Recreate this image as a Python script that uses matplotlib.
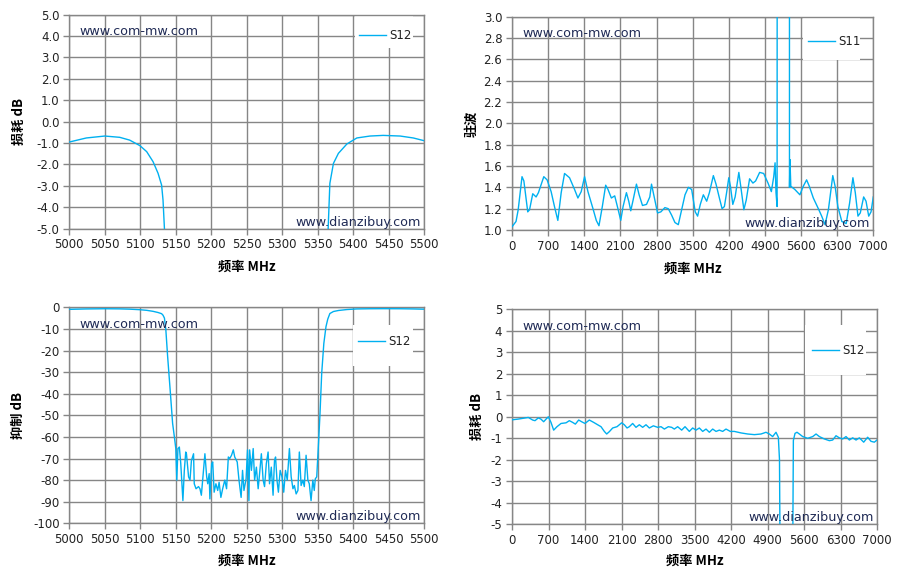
import matplotlib
matplotlib.use("Agg")
import matplotlib.pyplot as plt
from matplotlib.patches import Rectangle
import numpy as np

plt.rcParams["font.family"] = ["DejaVu Sans"]

CJK = ["Noto Sans CJK SC", "DejaVu Sans"]
LINE = "#00B0F0"
GRID = "#868686"
MARK = "#1F2A55"

# narrow sweep S12, 5000-5500 MHz (used in both left panels)
f_narrow = [5000, 5024, 5050, 5071, 5085, 5099.5, 5109, 5118, 5125, 5130, 5132, 5134,
            5136, 5138.5, 5142, 5145.5, 5148,
            5150, 5151.4, 5153, 5155, 5157, 5160, 5162, 5164, 5165, 5168, 5170, 5172,
            5175, 5176, 5178.5, 5182, 5184, 5186, 5189, 5191, 5193.5, 5195, 5197, 5198,
            5200.5, 5202, 5204, 5206.5, 5209, 5211, 5213.5, 5216, 5219, 5221.5, 5224,
            5226, 5228.5, 5231, 5233, 5236.5, 5239, 5242, 5244, 5246, 5249, 5251, 5253,
            5254, 5256.5, 5259, 5261, 5263.5, 5266, 5268, 5270.5, 5273, 5275, 5277.5,
            5280, 5282, 5284.5, 5287, 5289, 5290.5, 5292.5, 5294.5, 5297, 5299.5, 5302,
            5304.5, 5307, 5310, 5312.5, 5315, 5317, 5319.5, 5322, 5324, 5326.5, 5329,
            5331, 5333.5, 5336, 5338, 5340.5, 5343, 5345, 5346.5, 5348.5,
            5351, 5353, 5355.5, 5358.5, 5361.5, 5364, 5367, 5372, 5379, 5391, 5405,
            5423.5, 5442, 5466, 5484.5, 5500]
s12_narrow = [-0.95, -0.76, -0.67, -0.73, -0.86, -1.12, -1.40, -1.87, -2.41, -2.96, -3.66, -5.0,
              -10.5, -22.8, -38, -53.7, -60,
              -65.4, -80, -65.4, -64.7, -72.4, -89.5, -75.5, -67, -67.8, -78.5, -80, -71,
              -67.8, -81.7, -84, -83, -84, -87, -75.5, -67.8, -78.5, -81.7, -77, -88.7,
              -72.4, -71.6, -85.6, -81.7, -84.8, -81, -88, -84, -80, -84, -69.3,
              -70, -68.5, -66, -69.3, -71.6, -80, -88, -75.5, -84.8, -79.4, -66, -89.5,
              -66, -75.5, -65.4, -80, -74, -84, -77, -67.8, -80, -83, -72.4,
              -67, -81.7, -74, -87, -71, -69.3, -80, -85.6, -75.5, -78.5, -85.6,
              -75.5, -80, -65.4, -78.5, -84, -82.5, -86.4, -84.8, -67, -82.5, -80,
              -83, -68.5, -80, -81.7, -89.5, -80, -84.8, -79.4, -78.5,
              -63, -50, -30.5, -16.7, -9, -5.5, -2.88, -1.95, -1.48, -1.04, -0.76,
              -0.67, -0.64, -0.67, -0.76, -0.89]

# wide sweep S11 (VSWR), 0-7000 MHz
f_vswr = [0, 78, 120, 194, 230, 305, 340, 402, 467, 512, 616, 680, 758, 823, 888, 953,
          1018, 1115, 1212, 1277, 1341, 1406, 1471, 1569, 1633, 1685, 1750, 1815, 1860,
          1925, 1990, 2042, 2107, 2152, 2217, 2262, 2301, 2346, 2411, 2463, 2528, 2606,
          2670, 2703, 2755, 2820, 2884, 2962, 3027, 3092, 3157, 3222, 3287, 3352, 3417,
          3481, 3550, 3596, 3648, 3707, 3772, 3824, 3901, 3953, 4018, 4070, 4115, 4161,
          4200, 4232, 4278, 4323, 4395, 4440, 4492, 4538, 4603, 4668, 4720, 4798, 4876,
          4960, 5025, 5071, 5097, 5115, 5136, 5149, 5250, 5372, 5376, 5385, 5402, 5480,
          5578, 5643, 5708, 5760, 5838, 5935, 6000, 6065, 6130, 6215, 6260, 6313, 6390,
          6475, 6540, 6605, 6651, 6703, 6748, 6813, 6859, 6911, 6956, 7000]
vswr = [1.03, 1.08, 1.19, 1.50, 1.46, 1.17, 1.19, 1.34, 1.31, 1.35, 1.50, 1.47, 1.36, 1.22,
        1.09, 1.35, 1.53, 1.49, 1.38, 1.30, 1.36, 1.50, 1.36, 1.20, 1.09, 1.04, 1.22, 1.42,
        1.38, 1.30, 1.32, 1.22, 1.09, 1.22, 1.35, 1.27, 1.18, 1.28, 1.43, 1.33, 1.23, 1.24,
        1.31, 1.43, 1.31, 1.16, 1.17, 1.21, 1.20, 1.14, 1.07, 1.05, 1.19, 1.33, 1.40,
        1.38, 1.17, 1.13, 1.24, 1.33, 1.27, 1.35, 1.51, 1.43, 1.30, 1.20, 1.22, 1.36,
        1.49, 1.41, 1.24, 1.31, 1.54, 1.38, 1.19, 1.28, 1.48, 1.44, 1.46, 1.54, 1.53,
        1.44, 1.36, 1.50, 1.63, 1.35, 1.22, 20.0, 40.0, 20.0, 1.40, 1.66, 1.41, 1.38,
        1.33, 1.41, 1.47, 1.41, 1.30, 1.20, 1.13, 1.05, 1.19, 1.51, 1.41, 1.22, 1.08,
        1.06, 1.25, 1.49, 1.35, 1.13, 1.16, 1.31, 1.27, 1.13, 1.17, 1.31]

# wide sweep S12, 0-7000 MHz
f_wide = [0, 109, 237, 313, 396, 441, 505, 556, 607, 652, 697, 748, 799, 863, 940, 1036,
          1100, 1163, 1215, 1279, 1336, 1400, 1483, 1566, 1643, 1707, 1771, 1816, 1867,
          1931, 2014, 2103, 2154, 2206, 2250, 2314, 2378, 2442, 2506, 2570, 2634, 2711,
          2794, 2858, 2922, 2998, 3062, 3113, 3177, 3254, 3318, 3401, 3465, 3529, 3593,
          3657, 3721, 3785, 3849, 3913, 3977, 4040, 4104, 4187, 4264, 4392, 4520, 4648,
          4776, 4871, 4935, 4999, 5063, 5108, 5130, 5145, 5155, 5250, 5365, 5380, 5396,
          5428, 5466, 5511, 5575, 5671, 5767, 5831, 5894, 5990, 6086, 6150, 6214, 6278,
          6342, 6406, 6470, 6534, 6598, 6662, 6745, 6821, 6885, 6949, 7000]
s12_wide = [-0.14, -0.11, -0.06, -0.03, -0.15, -0.18, -0.05, -0.11, -0.23, -0.11, 0.0,
            -0.26, -0.62, -0.46, -0.31, -0.28, -0.18, -0.26, -0.34, -0.15, -0.23, -0.31,
            -0.15, -0.26, -0.37, -0.46, -0.68, -0.80, -0.69, -0.52, -0.46, -0.28, -0.37,
            -0.52, -0.46, -0.31, -0.49, -0.37, -0.49, -0.37, -0.52, -0.42, -0.49, -0.46,
            -0.57, -0.46, -0.49, -0.57, -0.46, -0.62, -0.46, -0.68, -0.52, -0.62, -0.52,
            -0.68, -0.57, -0.72, -0.57, -0.68, -0.62, -0.68, -0.57, -0.68, -0.68, -0.75,
            -0.80, -0.83, -0.80, -0.72, -0.80, -0.92, -0.72, -0.95, -2.0, -8.0, -40.0,
            -80.0, -40.0, -8.0, -1.1, -0.77, -0.72, -0.80, -0.92, -1.0, -0.92, -0.80,
            -0.92, -1.03, -1.11, -1.08, -0.88, -0.98, -1.03, -0.92, -1.08, -0.98, -1.08,
            -0.98, -1.18, -0.95, -1.14, -1.18, -1.08]

W, H = 899, 578


def px_axes(fig, box):
    left, top, right, bottom = box
    return fig.add_axes([left / W, 1 - bottom / H, (right - left) / W, (bottom - top) / H])


def to_axes(box, x, y):
    left, top, right, bottom = box
    return (x - left) / (right - left), (bottom - y) / (bottom - top)


def style(ax, box, xticks, yticks, yfmt, ylabel, xlabel_y, ylabel_x, leg_box, leg_line, name):
    ax.set_xlim(xticks[0], xticks[-1])
    ax.set_ylim(yticks[0], yticks[-1])
    ax.set_xticks(xticks)
    ax.set_yticks(yticks)
    ax.set_yticklabels([yfmt.format(v) for v in yticks])
    ax.grid(True, color=GRID, linewidth=1.0)
    ax.set_axisbelow(True)
    for s in ax.spines.values():
        s.set_color(GRID)
        s.set_linewidth(1.0)
        s.set_zorder(1.0)
    ax.tick_params(direction="out", length=4, width=1.0, color=GRID,
                   labelsize=8.5, labelcolor="#222222", pad=3)
    ax.set_xlabel("频率 MHz", family=CJK, fontweight="bold", fontsize=9.5, va="center")
    ax.xaxis.set_label_coords(0.5, xlabel_y)
    ax.set_ylabel(ylabel, family=CJK, fontweight="bold", fontsize=9.5, va="center")
    ax.yaxis.set_label_coords(ylabel_x, 0.5)

    # white legend area hiding the grid, like the spreadsheet chart
    x0, y0 = to_axes(box, leg_box[0], leg_box[3])
    x1, y1 = to_axes(box, leg_box[2], leg_box[1])
    ax.add_patch(Rectangle((x0, y0), x1 - x0, y1 - y0, transform=ax.transAxes,
                           facecolor="white", edgecolor="none", zorder=0.8, clip_on=False))
    lx, ly = to_axes(box, leg_line[0], leg_line[1])
    leg = ax.legend([name], loc="center left", bbox_to_anchor=(lx, ly), frameon=False,
                    handlelength=2.3, handletextpad=0.25, borderpad=0, borderaxespad=0,
                    fontsize=8.5)
    for t in leg.get_texts():
        t.set_color("#222222")

    ax.text(0.03, 0.92, "www.com-mw.com", transform=ax.transAxes, fontsize=9.2,
            color=MARK, va="center", ha="left", zorder=3)
    ax.text(0.99, 0.03, "www.dianzibuy.com", transform=ax.transAxes, fontsize=9.2,
            color=MARK, va="center", ha="right", zorder=3)


fig = plt.figure(figsize=(W / 100, H / 100), dpi=100)

b1 = (69.3, 14.7, 424.3, 228.7)
ax1 = px_axes(fig, b1)
ax1.plot(f_narrow, s12_narrow, color=LINE, linewidth=1.0, zorder=2)
style(ax1, b1, np.arange(5000, 5501, 50), np.arange(-5, 5.01, 1.0), "{:.1f}", "损耗 dB",
      -0.178, -0.142, (355, 14.7, 413, 48), (359, 35.7), "S12")

b2 = (512, 16.7, 873.3, 230)
ax2 = px_axes(fig, b2)
ax2.plot(f_vswr, vswr, color=LINE, linewidth=1.0, zorder=2)
style(ax2, b2, np.arange(0, 7001, 700), np.round(np.arange(1.0, 3.01, 0.2), 1), "{:.1f}", "驻波",
      -0.18, -0.112, (803, 16.7, 860, 60), (808, 41.7), "S11")

b3 = (69.3, 307.3, 424.3, 523.3)
ax3 = px_axes(fig, b3)
ax3.plot(f_narrow, s12_narrow, color=LINE, linewidth=1.0, zorder=2)
style(ax3, b3, np.arange(5000, 5501, 50), np.arange(-100, 1, 10), "{:d}", "抑制 dB",
      -0.173, -0.144, (353, 325, 413, 366), (358, 341.7), "S12")

b4 = (512, 309.3, 877, 524.3)
ax4 = px_axes(fig, b4)
ax4.plot(f_wide, s12_wide, color=LINE, linewidth=1.0, zorder=2)
style(ax4, b4, np.arange(0, 7001, 700), np.arange(-5, 6, 1), "{:d}", "损耗 dB",
      -0.169, -0.097, (805, 325, 866, 375), (812, 350.5), "S12")

fig.savefig("out.png", dpi=100)
